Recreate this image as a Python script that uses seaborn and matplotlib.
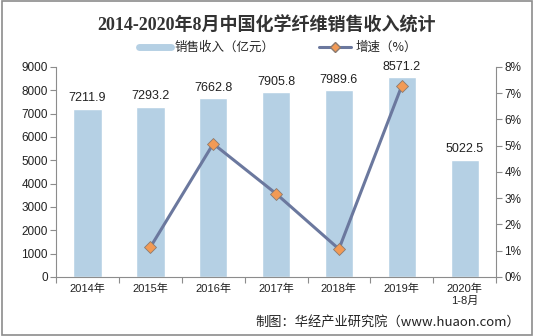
import numpy as np
import pandas as pd
import matplotlib
matplotlib.use("Agg")
import matplotlib.pyplot as plt
import seaborn as sns
from matplotlib.lines import Line2D
from matplotlib.patches import Rectangle

sns.set_theme(style="white")
plt.rcParams['font.family'] = ['Liberation Sans', 'Noto Sans CJK SC', 'DejaVu Sans']

categories = ["2014年", "2015年", "2016年", "2017年", "2018年", "2019年", "2020年\n1-8月"]
revenue = [7211.9, 7293.2, 7662.8, 7905.8, 7989.6, 8571.2, 5022.5]
growth_years = ["2015年", "2016年", "2017年", "2018年", "2019年"]
growth = [1.13, 5.07, 3.17, 1.06, 7.28]

bar_color = "#b5d0e4"
line_color = "#6b789e"
marker_color = "#f29a55"
axis_color = "#8c8c8c"

df = pd.DataFrame({"year": categories, "revenue": revenue})
gdf = pd.DataFrame({"year": growth_years, "growth": growth})
gdf["pos"] = [categories.index(y) for y in gdf["year"]]

fig = plt.figure(figsize=(5.34, 3.36), dpi=100)
ax = fig.add_axes([0.105, 0.176, 0.824, 0.625])

sns.barplot(data=df, x="year", y="revenue", color=bar_color, width=0.45,
            saturation=1, ax=ax)
ax.set_xlim(-0.5, len(categories) - 0.5)
ax.set_ylim(0, 9000)
ax.set_yticks(np.arange(0, 9001, 1000))
ax.set_xlabel("")
ax.set_ylabel("")

for i, v in enumerate(revenue):
    ax.text(i, v + 180, f"{v:.1f}", ha="center", va="bottom", fontsize=9,
            color="#222222")

ax2 = ax.twinx()
sns.lineplot(data=gdf, x="pos", y="growth", color=line_color, linewidth=2.2,
             marker="D", markersize=6, markerfacecolor=marker_color,
             markeredgecolor="#8a7a70", markeredgewidth=0.6, ax=ax2)
ax2.set_ylim(0, 8)
ax2.set_yticks(np.arange(0, 9, 1))
ax2.set_yticklabels([f"{i}%" for i in range(9)])
ax2.set_xlim(-0.5, len(categories) - 0.5)
ax2.set_ylabel("")
ax2.set_xlabel("")

for a in (ax, ax2):
    a.spines["top"].set_visible(False)
    for s in ("left", "right", "bottom"):
        a.spines[s].set_color(axis_color)
        a.spines[s].set_linewidth(0.8)
    a.grid(False)

ax.spines["right"].set_visible(False)
ax2.spines["left"].set_visible(False)
ax2.spines["bottom"].set_visible(False)

ax.tick_params(axis="y", which="major", direction="out", length=4, width=0.8,
               color=axis_color, labelsize=8.5, labelcolor="#222222", pad=2, left=True)
ax2.tick_params(axis="y", which="major", direction="out", length=4, width=0.8,
                color=axis_color, labelsize=8.5, labelcolor="#222222", pad=2, right=True)
ax.tick_params(axis="x", which="major", length=0, labelsize=8,
               labelcolor="#222222", pad=5)
ax.set_xticks(np.arange(-0.5, len(categories), 1), minor=True)
ax.tick_params(axis="x", which="minor", direction="out", length=4, width=0.8,
               color=axis_color, bottom=True)

fig.text(0.5, 0.925, "2014-2020年8月中国化学纤维销售收入统计", ha="center",
         va="center", fontsize=13, fontweight="bold", color="#333333",
         family=["Liberation Serif", "Noto Sans CJK SC", "DejaVu Sans"])

handles = [
    Line2D([0], [0], color=bar_color, linewidth=5),
    Line2D([0], [0], color=line_color, linewidth=2.2, marker="D", markersize=5,
           markerfacecolor=marker_color, markeredgecolor="#8a7a70"),
]
fig.legend(handles, ["销售收入（亿元）", "增速（%）"], loc="center",
           bbox_to_anchor=(0.52, 0.858), ncol=2, frameon=False,
           handlelength=2.6, columnspacing=3.5, handletextpad=0.3,
           prop={"family": ["Noto Sans CJK SC", "DejaVu Sans"], "size": 9})

fig.text(0.975, 0.04, "制图：华经产业研究院（www.huaon.com）", ha="right",
         va="center", fontsize=9.5, color="#222222",
         family=["Noto Sans CJK SC", "DejaVu Sans"])

fig.patches.append(Rectangle((0.004, 0.004), 0.992, 0.992, transform=fig.transFigure,
                             fill=False, edgecolor="#8c8c8c", linewidth=1.2))

fig.savefig("out.png", dpi=100)
